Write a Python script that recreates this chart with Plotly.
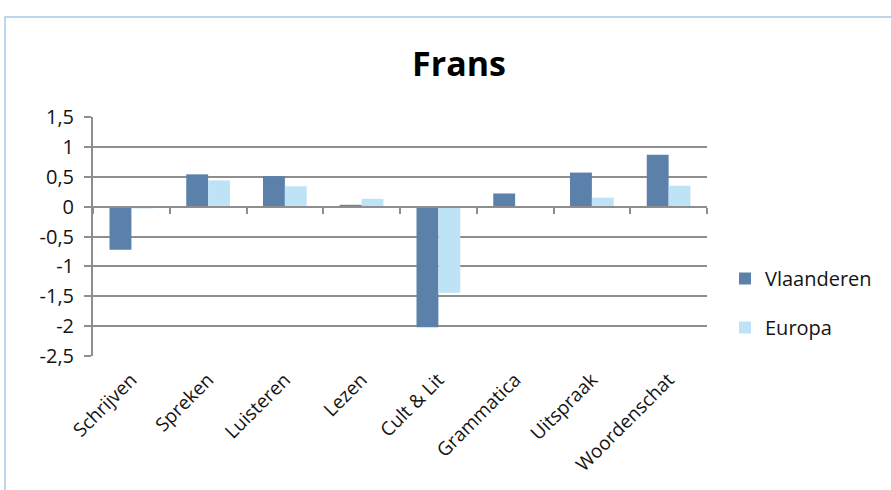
import plotly.graph_objects as go

categories = ["Schrijven", "Spreken", "Luisteren", "Lezen", "Cult & Lit", "Grammatica", "Uitspraak", "Woordenschat"]
vlaanderen = [-0.72, 0.54, 0.51, 0.03, -2.02, 0.22, 0.57, 0.87]
europa = [-0.03, 0.44, 0.34, 0.13, -1.44, 0.005, 0.15, 0.35]
y_tickvals = [1.5, 1, 0.5, 0, -0.5, -1, -1.5, -2, -2.5]
y_ticktext = ["1,5", "1", "0,5", "0", "-0,5", "-1", "-1,5", "-2", "-2,5"]

FONT = "'Open Sans', sans-serif"
GRID = "#8e8e8e"

fig = go.Figure()
fig.add_trace(go.Bar(x=categories, y=vlaanderen, name="Vlaanderen",
                     marker=dict(color="#5b80aa", line=dict(width=0)), legendgroup="a"))
fig.add_trace(go.Bar(x=categories, y=europa, name="Europa",
                     marker=dict(color="#bfe3f6", line=dict(width=0)), legendgroup="b"))
# invisible trace to draw the category axis at y = 0
fig.add_trace(go.Scatter(x=categories, y=[0] * len(categories), xaxis="x2", mode="markers",
                         marker=dict(opacity=0), showlegend=False, hoverinfo="skip"))

ymin, ymax = -2.5, 1.5
fig.update_layout(
    width=891, height=490,
    margin=dict(l=93, r=184, t=117, b=134),
    paper_bgcolor="white", plot_bgcolor="white",
    font=dict(family=FONT, color="#141414", size=18),
    title=dict(text="<b>Frans</b>", x=459 / 891, xanchor="center", xref="container",
               y=1 - 64 / 490, yanchor="middle", font=dict(size=34, family=FONT, color="#000000")),
    barmode="group", bargap=0.43, bargroupgap=0,
    showlegend=True,
    legend=dict(x=(725 - 93) / 614, y=(356 - 259) / 239, xanchor="left", yanchor="top",
                font=dict(size=20, family=FONT, color="#141414"), tracegroupgap=20,
                bgcolor="rgba(0,0,0,0)", itemwidth=30),
    xaxis=dict(type="category", showgrid=False, showline=False, ticks="", tickangle=-45,
               tickfont=dict(size=19, family=FONT), zeroline=False, fixedrange=True,
               ticklabelstandoff=8),
    xaxis2=dict(type="category", overlaying="x", anchor="free", position=(0 - ymin) / (ymax - ymin),
                side="bottom", showline=True, linecolor=GRID, linewidth=2, ticks="outside",
                tickson="boundaries", ticklen=6, tickcolor=GRID, tickwidth=2,
                showticklabels=False, showgrid=False, zeroline=False, matches="x"),
    yaxis=dict(range=[ymin, ymax], tickvals=y_tickvals, ticktext=y_ticktext,
               showgrid=True, gridcolor=GRID, gridwidth=2, showline=True, linecolor=GRID,
               linewidth=2, ticks="outside", ticklen=7, tickcolor=GRID, tickwidth=2,
               zeroline=False, tickfont=dict(size=20, family=FONT), ticklabelstandoff=6),
)

# chart area border
fig.add_shape(type="rect", xref="paper", yref="paper",
              x0=(5 - 93) / 614, x1=(900 - 93) / 614,
              y0=(356 - 500) / 239, y1=(356 - 17) / 239,
              line=dict(color="#a9c9e6", width=1.5), layer="below")

fig.write_html("out.html")
